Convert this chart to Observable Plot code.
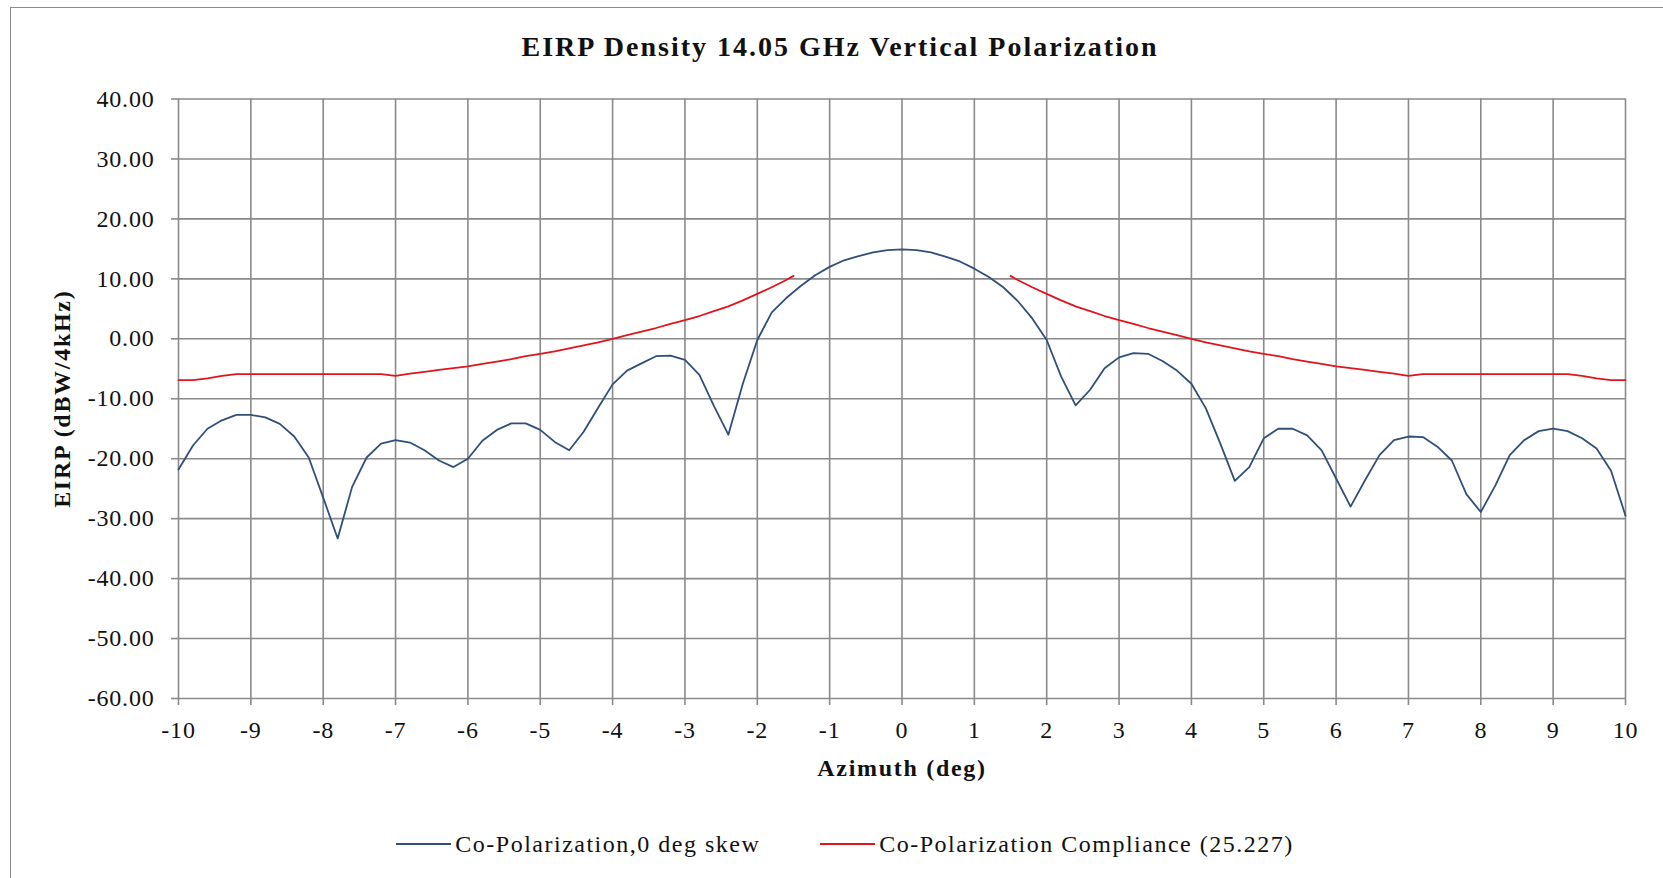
<!DOCTYPE html>
<html>
<head>
<meta charset="utf-8">
<script src="https://cdn.jsdelivr.net/npm/d3@7"></script>
<script src="https://cdn.jsdelivr.net/npm/@observablehq/plot@0.6"></script>
<style>
  html, body { margin: 0; padding: 0; background: #fff; }
  #wrap { position: relative; width: 1663px; height: 878px; overflow: hidden; font-family: "Liberation Serif", "Times New Roman", serif; color: #111; }
  #frame { position: absolute; left: 10px; top: 7px; width: 1700px; height: 900px; border: 1.5px solid #8c8c8c; box-sizing: border-box; }
  #title { position: absolute; left: 0; width: 1680px; top: 30px; text-align: center; font-weight: bold; font-size: 28px; line-height: 34px; letter-spacing: 2px; }
  #chart { position: absolute; left: 0; top: 0; }
  #legend { position: absolute; left: 0; width: 1690px; top: 829px; display: flex; justify-content: center; gap: 60px; font-size: 24px; line-height: 30px; letter-spacing: 1.5px; }
  .item { display: flex; align-items: center; }
  .sw { display: inline-block; width: 55px; height: 2px; margin-right: 4px; }
  .ticks text { letter-spacing: 0.8px; }
  .axtitle text { letter-spacing: 1.7px; }
</style>
</head>
<body>
<div id="wrap">
  <div id="frame"></div>
  <div id="chart"></div>
  <div id="title">EIRP Density 14.05 GHz Vertical Polarization</div>
  <div id="legend"></div>
</div>
<script>
// Azimuth (deg) samples of the measured pattern
const azimuth = [
  -10,-9.8,-9.6,-9.4,-9.2,-9,-8.8,-8.6,-8.4,-8.2,
  -8,-7.8,-7.6,-7.4,-7.2,-7,-6.8,-6.6,-6.4,-6.2,
  -6,-5.8,-5.6,-5.4,-5.2,-5,-4.8,-4.6,-4.4,-4.2,
  -4,-3.8,-3.6,-3.4,-3.2,-3,-2.8,-2.6,-2.4,-2.2,
  -2,-1.8,-1.6,-1.4,-1.2,-1,-0.8,-0.6,-0.4,-0.2,
  0,
  0.2,0.4,0.6,0.8,1,1.2,1.4,1.6,1.8,2,
  2.2,2.4,2.6,2.8,3,3.2,3.4,3.6,3.8,4,
  4.2,4.4,4.6,4.8,5,5.2,5.4,5.6,5.8,6,
  6.2,6.4,6.6,6.8,7,7.2,7.4,7.6,7.8,8,
  8.2,8.4,8.6,8.8,9,9.2,9.4,9.6,9.8,10
];
// Co-Polarization, 0 deg skew (dBW/4kHz)
const coPol = [
  -21.8,-17.8,-15.0,-13.6,-12.7,-12.7,-13.1,-14.2,-16.3,-19.8,
  -26.5,-33.3,-24.7,-19.8,-17.5,-16.9,-17.3,-18.6,-20.3,-21.4,
  -20.0,-17.0,-15.2,-14.1,-14.1,-15.2,-17.2,-18.6,-15.5,-11.5,
  -7.6,-5.3,-4.1,-2.9,-2.8,-3.5,-6.0,-11.2,-16.0,-7.5,
  -0.2,4.4,6.8,8.8,10.6,12.0,13.1,13.8,14.4,14.8,
  14.9,
  14.8,14.4,13.7,12.9,11.7,10.3,8.6,6.3,3.4,-0.2,
  -6.3,-11.1,-8.5,-4.9,-3.1,-2.4,-2.5,-3.7,-5.3,-7.5,
  -11.6,-17.5,-23.7,-21.4,-16.6,-15.0,-15.0,-16.1,-18.6,-23.3,
  -28.0,-23.6,-19.4,-16.9,-16.3,-16.4,-18.0,-20.3,-25.9,-28.9,
  -24.5,-19.4,-16.9,-15.4,-15.0,-15.4,-16.6,-18.3,-22.0,-29.5
];
// Compliance mask azimuths (two branches)
const compAzimuth = [
  -10,-9.8,-9.6,-9.4,-9.2,-9,-8.8,-8.6,-8.4,-8.2,
  -8,-7.8,-7.6,-7.4,-7.2,-7,-6.8,-6.6,-6.4,-6.2,
  -6,-5.8,-5.6,-5.4,-5.2,-5,-4.8,-4.6,-4.4,-4.2,
  -4,-3.8,-3.6,-3.4,-3.2,-3,-2.8,-2.6,-2.4,-2.2,
  -2,-1.8,-1.6,-1.5,
  1.5,1.6,1.8,2,2.2,2.4,2.6,2.8,3,3.2,3.4,
  3.6,3.8,4,4.2,4.4,4.6,4.8,5,5.2,5.4,
  5.6,5.8,6,6.2,6.4,6.6,6.8,7,7.2,7.4,
  7.6,7.8,8,8.2,8.4,8.6,8.8,9,9.2,9.4,
  9.6,9.8,10
];
// Co-Polarization Compliance (25.227) (dBW/4kHz)
const compliance = [
  -6.9,-6.9,-6.6,-6.2,-5.9,-5.9,-5.9,-5.9,-5.9,-5.9,
  -5.9,-5.9,-5.9,-5.9,-5.9,-6.2,-5.8,-5.5,-5.2,-4.9,
  -4.6,-4.2,-3.8,-3.4,-2.9,-2.5,-2.1,-1.6,-1.1,-0.6,
  0.0,0.6,1.2,1.8,2.5,3.1,3.8,4.6,5.4,6.4,
  7.5,8.6,9.8,10.5,
  10.5,9.8,8.6,7.5,6.4,5.4,4.6,3.8,3.1,2.5,1.8,
  1.2,0.6,0.0,-0.6,-1.1,-1.6,-2.1,-2.5,-2.9,-3.4,
  -3.8,-4.2,-4.6,-4.9,-5.2,-5.5,-5.8,-6.2,-5.9,-5.9,
  -5.9,-5.9,-5.9,-5.9,-5.9,-5.9,-5.9,-5.9,-5.9,-6.2,
  -6.6,-6.9,-6.9
];
const xTicks = [-10,-9,-8,-7,-6,-5,-4,-3,-2,-1,0,1,2,3,4,5,6,7,8,9,10];
const yTicks = [-60,-50,-40,-30,-20,-10,0,10,20,30,40];
const seriesNames = ["Co-Polarization,0 deg skew", "Co-Polarization Compliance (25.227)"];
const seriesColors = ["#2f5079", "#e0141c"];
const xLabel = "Azimuth (deg)";
const yLabel = "EIRP (dBW/4kHz)";

const blue = azimuth.map((a, i) => ({az: a, v: coPol[i]}));
const red = compAzimuth.map((a, i) => ({az: a, v: compliance[i], side: a < 0 ? "L" : "R"}));

const gridStyle = {stroke: "#8a8a8a", strokeOpacity: 1, strokeWidth: 1.6};

const chart = Plot.plot({
  width: 1663,
  height: 800,
  marginTop: 98.5,
  marginBottom: 102,
  marginLeft: 178,
  marginRight: 38,
  x: {domain: [-10, 10]},
  y: {domain: [-60, 40]},
  style: {fontFamily: "'Liberation Serif', 'Times New Roman', serif", fontSize: "24px", color: "#111", background: "transparent", overflow: "visible"},
  marks: [
    Plot.gridX(xTicks, gridStyle),
    Plot.gridY(yTicks, gridStyle),
    Plot.axisX(xTicks, {className: "ticks", tickSize: 7, tickPadding: 15, tickFormat: d => String(d), label: null, stroke: "#8a8a8a", strokeWidth: 1.6, fill: "#111", fontSize: 24}),
    Plot.axisY(yTicks, {className: "ticks", tickSize: 7, tickPadding: 17, tickFormat: d => d.toFixed(2), label: null, stroke: "#8a8a8a", strokeWidth: 1.6, fill: "#111", fontSize: 24}),
    Plot.text([xLabel], {className: "axtitle", frameAnchor: "bottom", dy: 77, fontWeight: "bold", fontSize: 24, fill: "#111"}),
    Plot.text([yLabel], {className: "axtitle", frameAnchor: "left", textAnchor: "middle", dx: -116, rotate: -90, fontWeight: "bold", fontSize: 24, fill: "#111"}),
    Plot.line(blue, {x: "az", y: "v", stroke: seriesColors[0], strokeWidth: 1.8}),
    Plot.line(red, {x: "az", y: "v", z: "side", stroke: seriesColors[1], strokeWidth: 1.8})
  ]
});
document.getElementById("chart").appendChild(chart);

const legend = document.getElementById("legend");
seriesNames.forEach((name, i) => {
  const item = document.createElement("div");
  item.className = "item";
  const sw = document.createElement("span");
  sw.className = "sw";
  sw.style.background = seriesColors[i];
  const t = document.createElement("span");
  t.textContent = name;
  item.appendChild(sw);
  item.appendChild(t);
  legend.appendChild(item);
});
</script>
</body>
</html>
